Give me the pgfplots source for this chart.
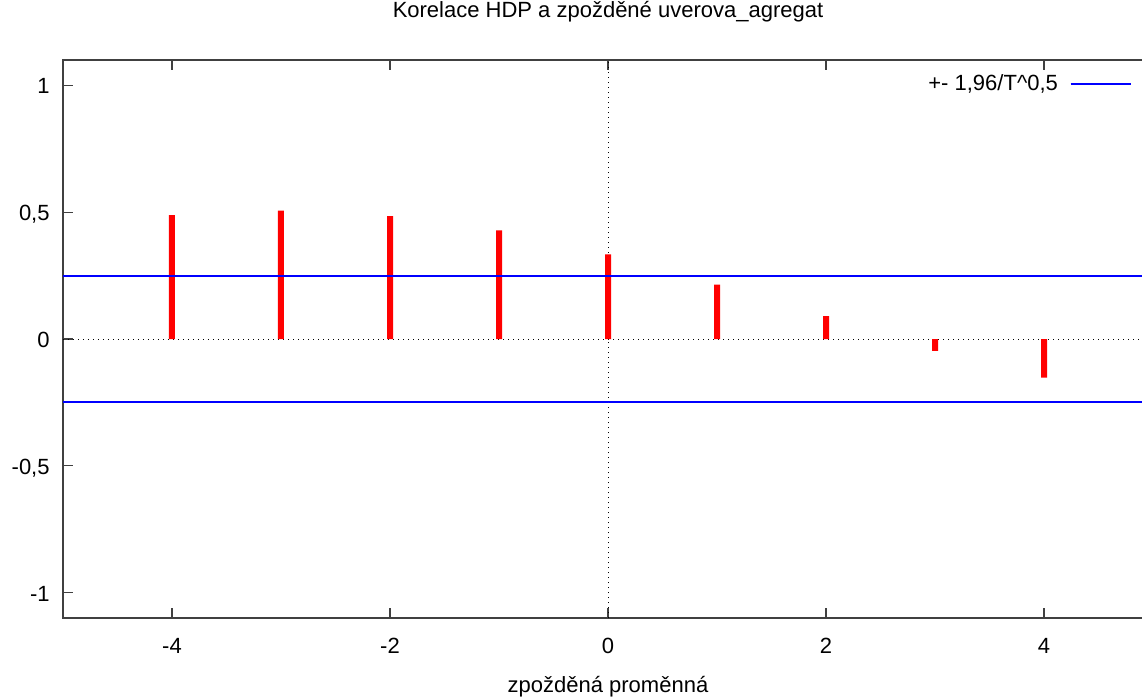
\documentclass[border=0pt]{standalone}
\usepackage{fontspec}
\setmainfont{Liberation Sans}
\usepackage{pgfplots}
\pgfplotsset{compat=1.18}
\definecolor{axgray}{RGB}{64,64,64}
\definecolor{gpblue}{RGB}{0,0,255}
\definecolor{gpred}{RGB}{255,0,0}
\begin{document}
\begin{tikzpicture}
\begin{axis}[
  at={(0,0)}, anchor=south west,
  scale only axis, width=545pt, height=279pt,
  xmin=-5, xmax=5, ymin=-1.1, ymax=1.1,
  axis line style={axgray, line width=0.6pt},
  tick style={axgray, line width=0.6pt},
  tick align=inside, major tick length=5pt,
  xtick={-4,-2,0,2,4}, xticklabels={-4,-2,0,2,4},
  ytick={-1,-0.5,0,0.5,1}, yticklabels={{-1},{-0,5},{0},{0,5},{1}},
  xticklabel style={font=\fontsize{11}{13}\selectfont, anchor=base, inner sep=0pt, yshift=-17.5pt},
  yticklabel style={font=\fontsize{11}{13}\selectfont, anchor=base east, inner sep=0pt, xshift=-6.5pt, yshift=-4.3pt},
  title={Korelace HDP a zpožděné uverova\_agregat},
  title style={font=\fontsize{11}{13}\selectfont, anchor=base, at={(0.5,1)}, yshift=15.5pt, inner sep=0pt},
  xlabel={zpožděná proměnná},
  xlabel style={font=\fontsize{11}{13}\selectfont, anchor=base, at={(0.5,0)}, yshift=-37pt, inner sep=0pt},
  legend style={draw=none, fill=none, at={(rel axis cs:0.986,0.989)}, anchor=north east,
    font=\fontsize{11}{13}\selectfont, legend cell align=right,
    /tikz/every odd column/.append style={column sep=4pt}},
  legend plot pos=right,
  legend image code/.code={\draw[#1] (0pt,0pt) -- (30pt,0pt);},
  clip=true,
]
\addplot[draw=black, dotted, line width=0.5pt, forget plot] coordinates {(-5,0) (5,0)};
\addplot[draw=black, dotted, line width=0.5pt, forget plot] coordinates {(0,-1.1) (0,1.1)};
\addplot[ybar, bar width=3pt, bar shift=0pt, fill=gpred, draw=none, mark=none, forget plot] coordinates {
(-4,0.488) (-3,0.506) (-2,0.484) (-1,0.428) (0,0.334) (1,0.214) (2,0.090) (3,-0.047) (4,-0.152)};
\addplot[draw=gpblue, line width=0.7pt, forget plot] coordinates {(-5,-0.249) (5,-0.249)};
\addplot[draw=gpblue, line width=0.7pt, forget plot] coordinates {(-5,0.2485) (5,0.2485)};
\addlegendimage{draw=gpblue, line width=0.7pt}
\addlegendentry{+- 1,96/T\^{}0,5}
\end{axis}
\pgfresetboundingbox
\path[use as bounding box] (-31.5pt,-39.5pt) rectangle (539.5pt,309pt);
\end{tikzpicture}
\end{document}
